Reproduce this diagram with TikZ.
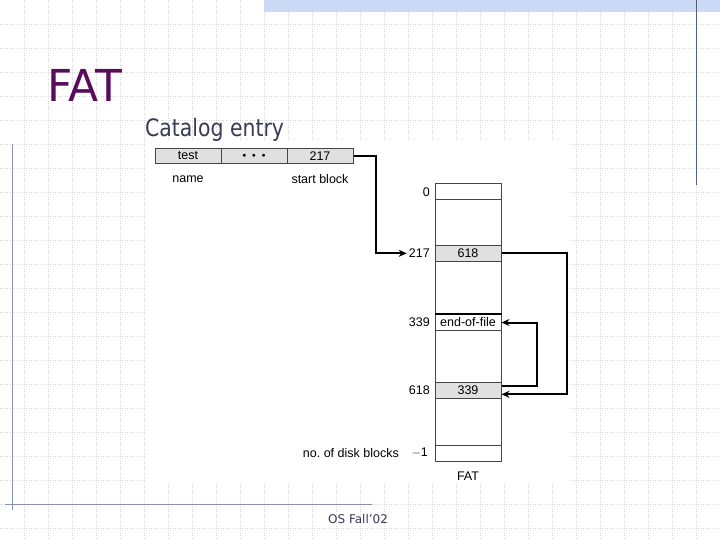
\documentclass[tikz,border=0pt]{standalone}
\usepackage{fontspec}
\setmainfont{Liberation Sans}
\newfontfamily\slidefont{DejaVu Sans}
\usetikzlibrary{arrows.meta,calc}
\definecolor{titlepurple}{RGB}{90,12,92}
\definecolor{subtitle}{RGB}{58,58,90}
\definecolor{band}{RGB}{204,218,248}
\definecolor{frameline}{RGB}{136,144,176}
\definecolor{darkframe}{RGB}{80,96,130}
\definecolor{gridc}{RGB}{212,212,212}
\definecolor{cellfill}{RGB}{224,224,224}
\definecolor{boxline}{RGB}{70,70,70}
\tikzset{
  gridline/.style={gridc, line width=0.7pt, dash pattern=on 1pt off 1.4pt},
  cellbox/.style={draw=boxline, fill=cellfill, line width=1pt, minimum width=66pt, minimum height=15pt, inner sep=0pt, font=\fontsize{12.5}{12.5}\selectfont},
  rowbox/.style={draw=boxline, line width=1pt, minimum width=66pt, minimum height=16pt, inner sep=0pt, font=\fontsize{12.5}{12.5}\selectfont},
  figlabel/.style={inner sep=2pt, font=\fontsize{12.5}{12.5}\selectfont},
  conn/.style={line width=2pt, -{Stealth[length=8pt,width=7pt]}},
}
\begin{document}
\begin{tikzpicture}[x=1pt,y=-1pt]
\frenchspacing
\useasboundingbox (0,0) rectangle (720,540);
\fill[white] (0,0) rectangle (720,540);
% grid
\foreach \i in {1,...,29} \draw[gridline] (24*\i,0) -- (24*\i,540);
\foreach \j in {1,...,22} \draw[gridline] (0,24*\j) -- (720,24*\j);
% top band and frame lines
\fill[band] (264,0) rectangle (720,12.5);
\draw[darkframe, line width=1pt] (696,0) -- (696,185);
\draw[frameline, line width=1pt] (12,144) -- (12,510);
\draw[frameline, line width=1pt] (5,504) -- (372,504);
% figure background
\fill[white] (146,142) rectangle (570,484);
% titles
\node[anchor=base west, inner sep=0pt, text=titlepurple, font=\slidefont\fontsize{44}{44}\selectfont] (title) at (47,102) {FAT};
\node[anchor=base west, inner sep=0pt, text=subtitle, font=\slidefont\fontsize{24}{24}\selectfont] (sub) at (145,137) {\scalebox{0.85}[1]{Catalog entry}};
\node[anchor=base west, inner sep=0pt, text=subtitle, font=\slidefont\fontsize{12}{12}\selectfont] (foot) at (328,523) {OS Fall’02};
% catalog entry
\node[cellbox] (c1) at (188,156) {test};
\node[cellbox] (c2) at (254,156) {\fontsize{7}{7}\selectfont$\bullet\;\,\bullet\;\,\bullet$};
\node[cellbox] (c3) at (320,156) {217};
\node[figlabel] (lname) at (188,179) {name};
\node[figlabel] (lstart) at (320,179) {start block};
% FAT column
\draw[boxline, line width=1pt] (435,184) rectangle (501,461);
\node[rowbox] (r0) at (468,192) {};
\node[rowbox, fill=cellfill] (r217) at (468,253.3) {618};
\node[rowbox] (r339) at (468,322.5) {end-of-file};
\draw[black, line width=1.6pt] (r339.north west) -- (r339.north east);
\node[rowbox, fill=cellfill] (r618) at (468,390.3) {339};
\node[rowbox] (rm1) at (468,453) {};
\node[figlabel] (fatl) at (468,476) {FAT};
% row labels
\node[figlabel, anchor=east] (l0) at (432,192) {0};
\node[figlabel, anchor=east] (l217) at (432,253.3) {217};
\node[figlabel, anchor=east] (l339) at (432,322.5) {339};
\node[figlabel, anchor=east] (l618) at (432,390.3) {618};
\node[figlabel, anchor=east] (lm1) at (430,453) {$-$1};
\node[figlabel, anchor=east] (lnum) at (401,453) {no. of disk blocks};
% connectors
\draw[conn] (c3.east) -- ++(22,0) |- (l217.west);
\draw[conn] (r217.east) -- ++(65,0) |- ([yshift=-4pt]r618.east);
\draw[conn] ([yshift=4.5pt]r618.east) -- ++(35,0) |- (r339.east);
\end{tikzpicture}
\end{document}
